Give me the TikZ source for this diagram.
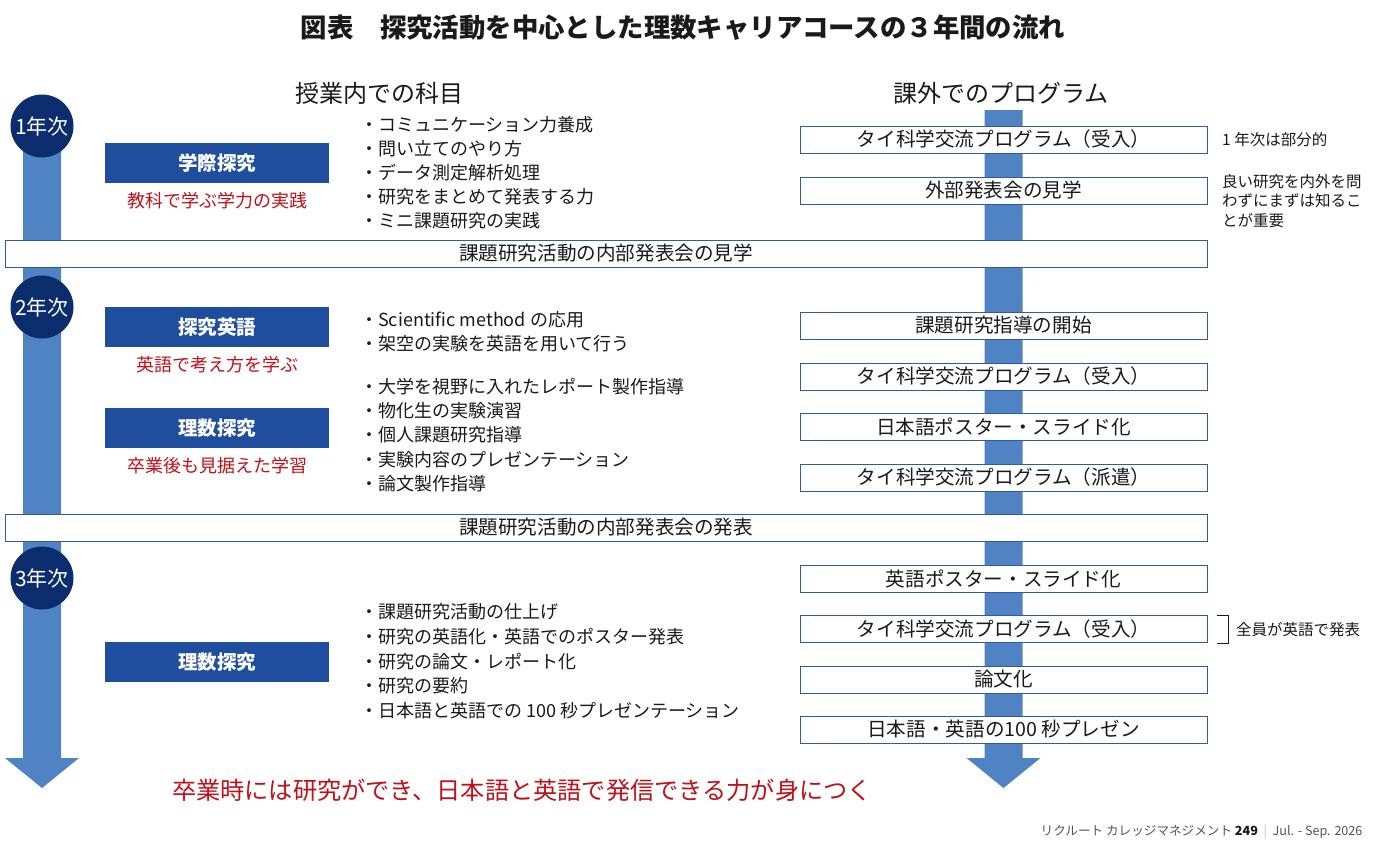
\documentclass[tikz,border=0pt]{standalone}
\usepackage{fontspec}
\setmainfont{Noto Sans CJK JP}
\usetikzlibrary{positioning}
\definecolor{flowInk}{HTML}{1A1A1A}
\definecolor{flowNavy}{HTML}{0B2D6E}
\definecolor{flowBlue}{HTML}{1F4E9E}
\definecolor{flowArrow}{HTML}{5083C4}
\definecolor{flowLine}{HTML}{2E5AA8}
\definecolor{flowRed}{HTML}{C0101A}
\definecolor{flowGray}{HTML}{555555}
\newcommand\fsz[1]{\fontsize{#1}{#1}\selectfont}
\tikzset{
  every picture/.style={text=flowInk},
  flow title/.style={font=\fsz{26.4}\bfseries},
  flow head/.style={font=\fsz{24}},
  year mark/.style={circle, fill=flowNavy, text=white, minimum size=63pt,
    inner sep=0pt, font=\fsz{21}},
  subject box/.style={fill=flowBlue, text=white, minimum width=224pt,
    minimum height=40pt, inner sep=0pt, font=\fsz{19.5}\bfseries},
  subject aim/.style={text=flowRed, font=\fsz{18}},
  item text/.style={anchor=west, inner sep=0pt, font=\fsz{18}},
  prog box/.style={draw=flowLine, line width=1pt, fill=white, minimum width=407pt,
    minimum height=27pt, inner sep=0pt, font=\fsz{19.6}},
  event box/.style={prog box, minimum width=1202pt},
  note text/.style={anchor=west, inner sep=0pt, align=left,
    font=\fontsize{15.5}{19.5}\selectfont},
  note brace/.style={draw=flowInk, line width=0.9pt},
  flow arrow/.style={fill=flowArrow}
}

\begin{document}
\begin{tikzpicture}[x=1pt,y=-1pt]
  \fill[white] (0,0) rectangle (1378,851);
  \useasboundingbox (0,0) rectangle (1378,851);
  % big arrows
  \fill[flow arrow] (23,126) -- (61,126) -- (61,758) -- (79,758) -- (42,788)
    -- (5,758) -- (23,758) -- cycle;
  \fill[flow arrow] (984.5,110) -- (1022.5,110) -- (1022.5,758) -- (1040.5,758)
    -- (1003.5,788) -- (966.5,758) -- (984.5,758) -- cycle;
  \node[flow title] (title) at (683,28) {図表　探究活動を中心とした理数キャリアコースの３年間の流れ};
  \node[flow head] (inner) at (379,93) {授業内での科目};
  \node[flow head] (outer) at (1001,93) {課外でのプログラム};
  % years
  \node[year mark] (y1) at (42,126) {1年次};
  \node[year mark] (y2) at (42,307) {2年次};
  \node[year mark] (y3) at (42,578) {3年次};
  % subjects
  \node[subject box] (s1) at (217,163) {学際探究};
  \node[subject aim] (a1) at (217,201) {教科で学ぶ学力の実践};
  \node[subject box] (s2) at (217,327) {探究英語};
  \node[subject aim] (a2) at (217,365) {英語で考え方を学ぶ};
  \node[subject box] (s3) at (217,428) {理数探究};
  \node[subject aim] (a3) at (217,466) {卒業後も見据えた学習};
  \node[subject box] (s4) at (217,662) {理数探究};
  % items
  \foreach \y/\t [count=\i] in {125/コミュニケーション力養成, 149/問い立てのやり方,
      173/データ測定解析処理, 197/研究をまとめて発表する力, 221/ミニ課題研究の実践}
    \node[item text] (ia-\i) at (360,\y) {・\t};
  \foreach \y/\t [count=\i] in {320/Scientific method の応用, 344/架空の実験を英語を用いて行う,
      387/大学を視野に入れたレポート製作指導, 411/物化生の実験演習, 435/個人課題研究指導,
      460/実験内容のプレゼンテーション, 484/論文製作指導}
    \node[item text] (ib-\i) at (360,\y) {・\t};
  \foreach \y/\t [count=\i] in {612/課題研究活動の仕上げ, 637/研究の英語化・英語でのポスター発表,
      662/研究の論文・レポート化, 686/研究の要約, 711/日本語と英語での 100 秒プレゼンテーション}
    \node[item text] (ic-\i) at (360,\y) {・\t};
  % programs
  \foreach \y/\t [count=\i] in {139.5/タイ科学交流プログラム（受入）, 190.5/外部発表会の見学,
      325.5/課題研究指導の開始, 376.5/タイ科学交流プログラム（受入）,
      426.5/日本語ポスター・スライド化, 477.5/タイ科学交流プログラム（派遣）,
      578.5/英語ポスター・スライド化, 629/タイ科学交流プログラム（受入）,
      679.5/論文化, 729.5/日本語・英語の100 秒プレゼン}
    \node[prog box] (p\i) at (1003.5,\y) {\t};
  \node[event box] (e1) at (606,253.5) {課題研究活動の内部発表会の見学};
  \node[event box] (e2) at (606,527.5) {課題研究活動の内部発表会の発表};
  % notes
  \node[note text] (n1) at (1222,140) {1 年次は部分的};
  \node[note text] (n2) at (1222,201) {良い研究を内外を問\\わずにまずは知るこ\\とが重要};
  \draw[note brace] ([xshift=9pt]p8.north east) -| ([xshift=21pt]p8.south east)
    -- ([xshift=9pt]p8.south east);
  \node[note text] (n3) at (1236,630) {全員が英語で発表};
  \node[text=flowRed, font=\fsz{24.2}] (goal) at (522,790)
    {卒業時には研究ができ、日本語と英語で発信できる力が身につく};
  \node[anchor=east, text=flowGray, font=\fsz{12.6}] (foot) at (1366,832)
    {リクルート カレッジマネジメント \textcolor{flowInk}{\bfseries 249}\ \ \textcolor{gray!50}{|}\ \ Jul. - Sep. 2026};
\end{tikzpicture}
\end{document}
